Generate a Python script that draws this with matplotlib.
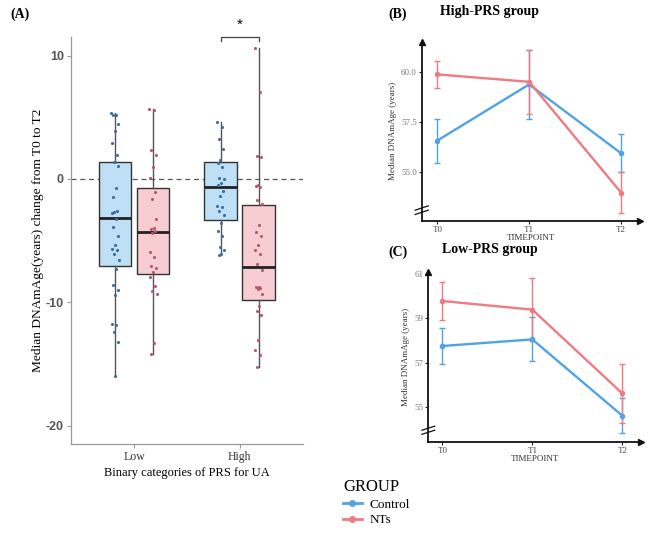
import matplotlib
matplotlib.use("Agg")
import matplotlib.pyplot as plt
import numpy as np
from matplotlib.lines import Line2D

# ---------------- DATA ----------------
prs_categories = ["Low", "High"]
groups = ["Control", "NTs"]

low_control = [5.3, 5.2, 5.15, 4.45, 3.9, 2.9, 1.95, 1.4, 1.05, -0.76, -1.5, -2.6, -2.65,
               -2.75, -3.25, -3.9, -4.6, -5.4, -5.7, -5.8, -6.1, -6.55, -7.3, -8.6, -9.05,
               -9.4, -11.75, -11.85, -12.45, -13.2, -16.0]
low_nts = [5.65, 5.55, 2.37, 1.95, 0.95, 0.1, -1.03, -1.6, -3.27, -4.0, -4.1, -4.2, -4.43,
           -5.95, -6.3, -7.1, -7.2, -7.55, -7.95, -8.7, -9.1, -9.3, -13.35, -14.2]
high_control = [4.58, 4.23, 3.2, 2.45, 1.56, 1.3, 0.95, 0.08, 0.0, -0.32, -0.46, -0.97, -1.4,
                -2.2, -2.3, -2.57, -2.95, -3.6, -4.19, -4.65, -5.5, -5.8, -6.1, -6.15]
high_nts = [10.6, 7.07, 1.83, 1.8, -0.5, -0.6, -0.7, -1.75, -2.08, -3.78, -4.35, -4.6, -5.35,
            -5.8, -6.13, -6.88, -7.37, -8.74, -8.8, -8.85, -8.9, -9.3, -10.3, -10.75, -11.05,
            -13.05, -13.9, -14.25, -15.25]

# box statistics: (whislo, q1, med, q3, whishi)
box_low_control = (-16.0, -7.1, -3.2, 1.35, 5.3)
box_low_nts = (-14.2, -7.7, -4.3, -0.76, 5.7)
box_high_control = (-6.15, -3.3, -0.65, 1.4, 4.6)
box_high_nts = (-15.25, -9.8, -7.15, -2.1, 10.6)

yticks_a = [10, 0, -10, -20]

timepoints = ["T0", "T1", "T2"]
high_control_mean = [56.57, 59.37, 55.94]
high_control_err = [1.10, 1.74, 0.95]
high_nts_mean = [59.87, 59.50, 53.98]
high_nts_err = [0.69, 1.60, 1.01]
low_control_mean = [57.75, 58.05, 54.59]
low_control_err = [0.80, 1.00, 0.80]
low_nts_mean = [59.79, 59.40, 55.60]
low_nts_err = [0.88, 1.42, 1.32]

yticks_b = [55.0, 57.5, 60.0]
yticks_c = [55, 57, 59, 61]

# ---------------- STYLE ----------------
W, H = 665, 533
blue_line = "#4FA3E6"
red_line = "#EE7A82"
blue_fill = "#BEDFF5"
red_fill = "#F7CDD2"
blue_pt = "#3C6E9E"
red_pt = "#B05A6C"
serif = ["Liberation Serif", "DejaVu Serif"]

fig = plt.figure(figsize=(W / 100, H / 100), dpi=100)

def fx(px):
    return px / W

def fy(py):
    return 1 - py / H

# ---------------- PANEL A ----------------
axA = fig.add_axes([fx(70.7), fy(444), fx(303) - fx(70.7), fy(37) - fy(444)])
axA.set_xlim(0.4, 2.6)
axA.set_ylim(-21.5, 11.5)
offset = 0.18
bw = 0.31
datasets = [(low_control, box_low_control, 1 - offset, blue_fill, blue_pt),
            (low_nts, box_low_nts, 1 + offset, red_fill, red_pt),
            (high_control, box_high_control, 2 - offset, blue_fill, blue_pt),
            (high_nts, box_high_nts, 2 + offset, red_fill, red_pt)]
axA.axhline(0, color="#555555", lw=0.9, ls=(0, (4, 3)), zorder=1)
for vals, st, pos, fc, pc in datasets:
    stats = [dict(whislo=st[0], q1=st[1], med=st[2], q3=st[3], whishi=st[4], fliers=[])]
    axA.bxp(stats, positions=[pos], widths=bw, patch_artist=True, showcaps=False,
            boxprops=dict(facecolor=fc, edgecolor="#333333", lw=1.0),
            medianprops=dict(color="#222222", lw=2.0),
            whiskerprops=dict(color="#555555", lw=1.0), manage_ticks=False)
    n = len(vals)
    jit = ((np.arange(n) * 0.6180339) % 1 - 0.5) * 0.07
    axA.scatter(pos + jit, vals, s=5, color=pc, zorder=4, linewidths=0)

axA.set_xticks([1, 2])
axA.set_xticklabels(prs_categories, family=serif, fontsize=8.5, color="#333333")
axA.set_yticks(yticks_a)
axA.set_yticklabels([str(v) for v in yticks_a], family=["Liberation Sans"], fontsize=9,
                    fontweight="bold", color="#555555")
for s in ["top", "right"]:
    axA.spines[s].set_visible(False)
for s in ["left", "bottom"]:
    axA.spines[s].set_color("#999999")
    axA.spines[s].set_linewidth(0.9)
axA.tick_params(axis="both", length=3, color="#999999", width=0.8, pad=2)
axA.set_ylabel("Median DNAmAge(years) change from T0 to T2", family=serif, fontsize=9.6)
axA.yaxis.set_label_coords((44 - 70.7) / (303 - 70.7), 0.5)
axA.set_xlabel("Binary categories of PRS for UA", family=serif, fontsize=9, labelpad=3)
# significance bracket
bx0, bx1 = 1.82, 2.18
axA.plot([bx0, bx0, bx1, bx1], [11.18, 11.53, 11.53, 11.18], color="#444444", lw=0.9,
         clip_on=False)
axA.text((bx0 + bx1) / 2, 11.9, "*", ha="center", va="bottom", fontsize=11,
         family=["Liberation Sans"], clip_on=False)
fig.text(fx(10), fy(14), "(A)", family=serif, fontsize=10, fontweight="bold",
         ha="left", va="center")

# ---------------- PANELS B & C ----------------
def line_panel(box, xlim, ylim, yticks, ylabels, series, title, title_xy, label, label_xy,
               break_y):
    x0, y0, x1, y1 = box
    ax = fig.add_axes([fx(x0), fy(y1), fx(x1) - fx(x0), fy(y0) - fy(y1)])
    ax.set_xlim(*xlim)
    ax.set_ylim(*ylim)
    xs = np.arange(len(timepoints))
    for mean, err, col in series:
        ax.plot(xs, mean, color=col, lw=1.7, marker="o", ms=3, zorder=3)
        ax.errorbar(xs, mean, yerr=err, fmt="none", ecolor=col, elinewidth=1.0,
                    capsize=2, capthick=1.0, zorder=2)
    ax.set_xticks(xs)
    ax.set_xticklabels(timepoints, family=serif, fontsize=6.5, color="#444444")
    ax.set_yticks(yticks)
    ax.set_yticklabels(ylabels, family=serif, fontsize=6.5, color="#777777")
    ax.tick_params(axis="both", length=2, width=0.8, pad=1.5, color="#222222")
    for s in ["top", "right"]:
        ax.spines[s].set_visible(False)
    for s in ["left", "bottom"]:
        ax.spines[s].set_color("#111111")
        ax.spines[s].set_linewidth(1.3)
    ax.plot(1, 0, ">", color="#111111", ms=4, transform=ax.transAxes, clip_on=False)
    ax.plot(0, 1, "^", color="#111111", ms=4, transform=ax.transAxes, clip_on=False)
    ax.set_xlabel("TIMEPOINT", family=serif, fontsize=6.5, labelpad=0, color="#333333")
    ax.set_ylabel("Median DNAmAge (years)", family=serif, fontsize=6.5, labelpad=3,
                  color="#333333")
    # axis break marks
    yb = (break_y - ylim[0]) / (ylim[1] - ylim[0])
    for d in (-0.012, 0.012):
        ax.plot([-0.03, 0.03], [yb + d - 0.012, yb + d + 0.012], color="#111111", lw=0.9,
                transform=ax.transAxes, clip_on=False)
    fig.text(fx(title_xy[0]), fy(title_xy[1]), title, family=serif, fontsize=10,
             fontweight="bold", ha="center", va="center")
    fig.text(fx(label_xy[0]), fy(label_xy[1]), label, family=serif, fontsize=10,
             fontweight="bold", ha="left", va="center")
    return ax

line_panel((421.7, 41.7, 640, 221), (-0.17, 2.207), (52.56, 61.5), yticks_b,
           ["55.0", "57.5", "60.0"],
           [(high_control_mean, high_control_err, blue_line),
            (high_nts_mean, high_nts_err, red_line)],
           "High-PRS group", (490, 12), "(B)", (388, 14), 53.1)

line_panel((428.3, 271.7, 641, 441.7), (-0.156, 2.208), (53.41, 61.12), yticks_c,
           ["55", "57", "59", "61"],
           [(low_control_mean, low_control_err, blue_line),
            (low_nts_mean, low_nts_err, red_line)],
           "Low-PRS group", (490, 250), "(C)", (388, 252), 53.93)

# ---------------- LEGEND ----------------
handles = [Line2D([0], [0], color=blue_line, lw=2, marker="o", ms=4),
           Line2D([0], [0], color=red_line, lw=2, marker="o", ms=4)]
leg = fig.legend(handles, groups, loc="upper left", bbox_to_anchor=(fx(334), fy(470)),
                 frameon=False, title="GROUP", prop={"family": serif, "size": 9.5},
                 handlelength=1.4, handletextpad=0.6, labelspacing=0.25, borderpad=0.2)
leg.get_title().set_fontfamily(serif)
leg.get_title().set_fontsize(12)
leg._legend_box.align = "left"

fig.savefig("out.png", dpi=100)
